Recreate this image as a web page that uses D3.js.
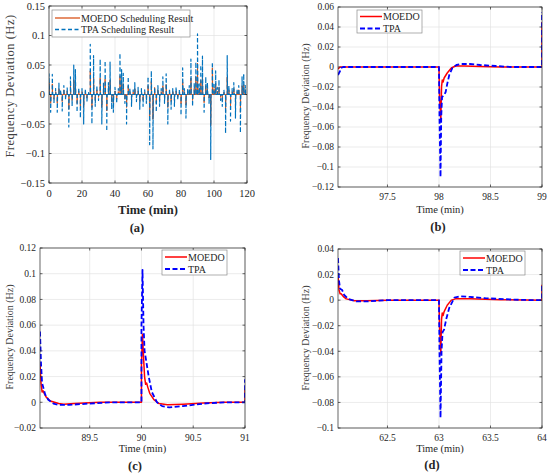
<!DOCTYPE html>
<meta charset="utf-8">
<head>
  <title>Frequency deviation</title>
</head>

<style>
body { margin: 0; background: #fff; }
svg text { fill: #262626; }
.grid line { stroke: #e3e3e3; stroke-width: 0.7; }
.frame { fill: none; stroke: #262626; stroke-width: 0.7; }
.tick { stroke: #262626; stroke-width: 0.7; }
</style>

<body>
  <svg width="550" height="475" font-family="'Liberation Serif', 'Times New Roman', 'DejaVu Serif', serif"></svg>

  <script src="https://cdnjs.cloudflare.com/ajax/libs/d3/7.8.5/d3.min.js"></script>
  <script>

// (a) per-minute peak deviation after each dispatch step, minutes 0..119
var tpaPeak = [
   0.035, -0.03,  0.034, -0.015,  0.01,  -0.03,  0.02,   0.008, -0.028,  0.015,
  -0.01,   0.012,-0.055,  0.03,  -0.02,   0.05,  0.042, -0.03,   0.012, -0.04,
   0.01,  -0.05,  0.01,  -0.012,  0.006,  0.085,-0.05,   0.066, -0.02,   0.015,
  -0.01,   0.06, -0.05,   0.02,   0.057, -0.062, 0.02,   0.055, -0.025, -0.03,
   0.012, -0.015, 0.01,   0.07,   0.042,  0.036,-0.015, -0.05,   0.03,   0.01,
  -0.02,   0.008, 0.02,  -0.012,  0.012, -0.025, 0.01,  -0.02,   0.008, -0.015,
   0.03,  -0.085, 0.04,  -0.092,  0.012, -0.03,  0.015, -0.02,   0.01,   0.03,
  -0.015,  0.035,-0.05,   0.01,  -0.025,  0.01, -0.02,   0.012, -0.01,   0.008,
  -0.035,  0.045, 0.01,  -0.04,   0.01,   0.015, 0.06,  -0.02,   0.02,   0.055,
   0.103,  0.018, 0.05,   0.065, -0.03,   0.03,  0.02,  -0.015, -0.11,   0.055,
   0.02,   0.04,  0.012,  0.025, -0.01,  -0.02,  0.008, -0.066,  0.066,  0.015,
  -0.045,  0.01,  0.02,  -0.04,   0.01,   0.015,-0.065,  0.03,   0.035,  0.015
];
var moedoPeak = [
   0.02,  -0.015, 0.018, -0.008,  0.005, -0.015, 0.01,   0.004, -0.012,  0.008,
  -0.005,  0.006,-0.025,  0.015, -0.01,   0.025, 0.02,  -0.015,  0.006, -0.02,
   0.005, -0.022, 0.005, -0.006,  0.003,  0.04, -0.022,  0.03,  -0.01,   0.008,
  -0.005,  0.028,-0.022,  0.01,   0.026, -0.028, 0.01,   0.025, -0.012, -0.014,
   0.006, -0.008, 0.005,  0.032,  0.02,   0.018,-0.008, -0.022,  0.015,  0.005,
  -0.01,   0.004, 0.01,  -0.006,  0.006, -0.012, 0.005, -0.01,   0.004, -0.008,
   0.015, -0.038, 0.022, -0.042,  0.012, -0.015, 0.008, -0.01,   0.005,  0.015,
  -0.008,  0.017,-0.022,  0.005, -0.012,  0.005,-0.01,   0.006, -0.005,  0.004,
  -0.016,  0.021, 0.005, -0.018,  0.005,  0.008, 0.028, -0.01,   0.01,   0.03,
   0.053,  0.01,  0.024,  0.03,  -0.014,  0.015, 0.01,  -0.006, -0.053,  0.045,
   0.01,   0.019, 0.006,  0.012, -0.005, -0.01,  0.004, -0.03,   0.03,   0.008,
  -0.02,   0.005, 0.01,  -0.018,  0.005,  0.008,-0.03,   0.015,  0.017,  0.008
];

// (b) 97-99 min
var tpaB = [[97.02,-0.008],[97.04,-0.004],[97.05,-0.001],[97.07,0],[98.0,0],[98.005,-0.05],[98.015,-0.11],
  [98.022,-0.05],[98.03,-0.03],[98.05,-0.028],[98.065,-0.025],[98.08,-0.017],[98.1,-0.008],[98.13,-0.001],
  [98.17,0.002],[98.22,0.003],[98.3,0.003],[98.4,0.002],[98.55,0.001],[98.7,0],[99.0,0],[99.0,0.055]];
var moedoB = [[97.02,-0.002],[97.04,0],[98.0,0],[98.005,-0.03],[98.018,-0.053],[98.025,-0.02],[98.032,-0.013],
  [98.04,-0.015],[98.05,-0.011],[98.08,-0.006],[98.12,-0.001],[98.16,0.001],[98.25,0.001],[98.4,0.0005],
  [98.6,0],[99.0,0],[99.0,0.045]];

// (c) 89-91 min
var tpaC = [[89.02,0.055],[89.03,0.03],[89.04,0.015],[89.05,0.012],[89.07,0.006],[89.1,0.002],[89.15,-0.001],
  [89.2,-0.002],[89.3,-0.002],[89.5,-0.001],[89.7,0],[90.0,0],[90.0,0.06],[90.01,0.103],[90.02,0.06],
  [90.03,0.04],[90.05,0.03],[90.07,0.02],[90.1,0.008],[90.15,0],[90.2,-0.003],[90.27,-0.004],[90.4,-0.003],
  [90.6,-0.001],[90.8,0],[91.0,0],[91.0,0.018]];
var moedoC = [[89.02,0.03],[89.03,0.015],[89.04,0.008],[89.05,0.009],[89.06,0.007],[89.08,0.004],[89.12,0.001],
  [89.2,-0.001],[89.25,-0.0015],[89.35,-0.001],[89.6,0],[90.0,0],[90.0,0.03],[90.01,0.053],[90.02,0.035],
  [90.03,0.02],[90.04,0.014],[90.05,0.015],[90.06,0.012],[90.08,0.007],[90.12,0.002],[90.17,-0.001],
  [90.25,-0.002],[90.4,-0.0015],[90.6,-0.0005],[90.8,0],[91.0,0],[91.0,0.01]];

// (d) 62-64 min
var tpaD = [[62.02,0.033],[62.03,0.015],[62.04,0.009],[62.06,0.008],[62.08,0.004],[62.12,0.001],[62.2,-0.001],
  [62.3,-0.001],[62.5,0],[63.0,0],[63.005,-0.04],[63.015,-0.092],[63.025,-0.04],[63.035,-0.025],[63.05,-0.023],
  [63.07,-0.015],[63.1,-0.006],[63.15,0.002],[63.2,0.003],[63.3,0.0025],[63.45,0.0015],[63.7,0.0005],
  [63.9,0],[64.0,0],[64.0,0.012]];
var moedoD = [[62.02,0.02],[62.03,0.008],[62.04,0.005],[62.05,0.005],[62.07,0.003],[62.1,0.001],[62.18,-0.0005],
  [62.3,-0.0005],[62.5,0],[63.0,0],[63.005,-0.02],[63.018,-0.042],[63.025,-0.015],[63.032,-0.01],[63.04,-0.012],
  [63.05,-0.009],[63.08,-0.004],[63.12,0],[63.16,0.001],[63.3,0.001],[63.6,0.0003],[64.0,0],[64.0,0.012]];

var ticksA_x = [0, 20, 40, 60, 80, 100, 120];
var ticksA_y = [-0.15, -0.1, -0.05, 0, 0.05, 0.1, 0.15];
var ticksB_x = [97.5, 98, 98.5, 99];
var ticksC_x = [89.5, 90, 90.5, 91];
var ticksD_x = [62.5, 63, 63.5, 64];
var ticksB_y = [-0.12, -0.1, -0.08, -0.06, -0.04, -0.02, 0, 0.02, 0.04, 0.06];
var ticksC_y = [-0.02, 0, 0.02, 0.04, 0.06, 0.08, 0.1, 0.12];
var ticksD_y = [-0.1, -0.08, -0.06, -0.04, -0.02, 0, 0.02, 0.04];

// spike series for (a): jump at each minute, then back to zero
function spikes(peaks) {
  var pts = [];
  peaks.forEach(function(p, m) {
    pts.push([m, 0], [m, p], [m + 0.2, 0]);
  });
  pts.push([120, 0]);
  return pts;
}

var fmt = function(v) {
  var s = String(+Math.abs(v).toFixed(4));
  return (v < 0 ? "\u2212" : "") + s;
};

var svg = d3.select("svg");

function panel(cfg) {
  var g = svg.append("g");
  var x = d3.scaleLinear().domain(cfg.xd).range([cfg.x0, cfg.x1]);
  var y = d3.scaleLinear().domain(cfg.yd).range([cfg.y1, cfg.y0]);
  var id = "clip" + cfg.name;

  svg.append("clipPath").attr("id", id).append("rect")
    .attr("x", cfg.x0).attr("y", cfg.y0 - 1)
    .attr("width", cfg.x1 - cfg.x0).attr("height", cfg.y1 - cfg.y0 + 2);

  var grid = g.append("g").attr("class", "grid");
  grid.selectAll(".gx").data(cfg.xt).enter().append("line")
    .attr("x1", d => x(d)).attr("x2", d => x(d))
    .attr("y1", cfg.y0).attr("y2", cfg.y1);
  grid.selectAll(".gy").data(cfg.yt).enter().append("line")
    .attr("x1", cfg.x0).attr("x2", cfg.x1)
    .attr("y1", d => y(d)).attr("y2", d => y(d));

  var line = d3.line().x(d => x(d[0])).y(d => y(d[1]));
  var lines = g.append("g").attr("clip-path", "url(#" + id + ")");
  cfg.series.forEach(function(s) {
    lines.append("path").datum(s.data)
      .attr("d", line)
      .attr("fill", "none")
      .attr("stroke", s.color)
      .attr("stroke-width", s.width)
      .attr("stroke-dasharray", s.dash || null)
      .attr("stroke-linejoin", "round");
  });

  g.append("rect").attr("class", "frame")
    .attr("x", cfg.x0).attr("y", cfg.y0)
    .attr("width", cfg.x1 - cfg.x0).attr("height", cfg.y1 - cfg.y0);

  // inward ticks, MATLAB style
  var tl = 2.5;
  g.selectAll(".tx").data(cfg.xt).enter().append("path").attr("class", "tick")
    .attr("d", d => "M" + x(d) + "," + cfg.y1 + "v" + (-tl) + "M" + x(d) + "," + cfg.y0 + "v" + tl);
  g.selectAll(".ty").data(cfg.yt).enter().append("path").attr("class", "tick")
    .attr("d", d => "M" + cfg.x0 + "," + y(d) + "h" + tl + "M" + cfg.x1 + "," + y(d) + "h" + (-tl));

  g.selectAll(".lx").data(cfg.xt).enter().append("text")
    .attr("x", d => x(d)).attr("y", cfg.y1 + cfg.fs + 3)
    .attr("text-anchor", "middle").attr("font-size", cfg.fs)
    .text(fmt);
  g.selectAll(".ly").data(cfg.yt).enter().append("text")
    .attr("x", cfg.x0 - 4).attr("y", d => y(d) + cfg.fs * 0.35)
    .attr("text-anchor", "end").attr("font-size", cfg.fs)
    .text(fmt);

  g.append("text")
    .attr("transform", "translate(" + cfg.ylabX + "," + cfg.ylabY + ") rotate(-90)")
    .attr("text-anchor", "middle").attr("font-size", cfg.lfs)
    .attr("letter-spacing", cfg.ls || 0)
    .style("fill", "#404040")
    .text("Frequency Deviation (Hz)");
  g.append("text")
    .attr("x", (cfg.x0 + cfg.x1) / 2).attr("y", cfg.xlabY)
    .attr("text-anchor", "middle").attr("font-size", cfg.xfs)
    .attr("font-weight", cfg.boldX ? "bold" : null)
    .text("Time (min)");
  g.append("text")
    .attr("x", cfg.capX).attr("y", cfg.capY)
    .attr("text-anchor", "middle").attr("font-size", 12.5).attr("font-weight", "bold")
    .text("(" + cfg.name + ")");

  // legend
  var L = cfg.legend;
  var lg = g.append("g");
  lg.append("rect").attr("x", L.x).attr("y", L.y).attr("width", L.w).attr("height", L.h)
    .attr("fill", "#fff").attr("stroke", "#8c8c8c").attr("stroke-width", 0.7);
  cfg.series.forEach(function(s, i) {
    var ry = L.y + L.r0 + i * L.dr;
    lg.append("line")
      .attr("x1", L.x + 3).attr("x2", L.x + L.sw).attr("y1", ry).attr("y2", ry)
      .attr("stroke", s.color).attr("stroke-width", L.lw || s.width)
      .attr("stroke-dasharray", s.dash || null);
    lg.append("text").attr("x", L.x + L.sw + 1).attr("y", ry + L.fs * 0.35)
      .attr("font-size", L.fs).text(s.label);
  });
}

var red = "#ff0000", blue = "#0000ff";

panel({
  name: "a", x0: 49, x1: 247, y0: 6, y1: 183,
  xd: [0, 120], yd: [-0.15, 0.15], xt: ticksA_x, yt: ticksA_y,
  fs: 10.5, lfs: 12.5, ls: 0.5, ylabX: 14, ylabY: 86,
  xfs: 12.5, boldX: true, xlabY: 214, capX: 137, capY: 232,
  series: [
    { label: "MOEDO Scheduling Result", data: spikes(moedoPeak), color: "#D95319", width: 1 },
    { label: "TPA Scheduling Result", data: spikes(tpaPeak), color: "#0072BD", width: 1.2, dash: "4,2.5" }
  ],
  legend: { x: 52, y: 10, w: 138, h: 27, r0: 8, dr: 11.5, sw: 28, fs: 10, lw: 1.3 }
});

panel({
  name: "b", x0: 338, x1: 542, y0: 7, y1: 187,
  xd: [97.02, 99], yd: [-0.12, 0.06], xt: ticksB_x, yt: ticksB_y,
  fs: 9.5, lfs: 10, ylabX: 309, ylabY: 96,
  xfs: 10.5, xlabY: 213, capX: 438, capY: 231,
  series: [
    { label: "MOEDO", data: moedoB, color: red, width: 1.5 },
    { label: "TPA", data: tpaB, color: blue, width: 1.8, dash: "5,2.5" }
  ],
  legend: { x: 357, y: 10, w: 65, h: 23, r0: 6.5, dr: 12, sw: 25, fs: 10 }
});

panel({
  name: "c", x0: 40, x1: 245, y0: 248, y1: 428,
  xd: [89.02, 91], yd: [-0.02, 0.12], xt: ticksC_x, yt: ticksC_y,
  fs: 9.5, lfs: 10, ylabX: 13, ylabY: 337,
  xfs: 10.5, xlabY: 452, capX: 135, capY: 470,
  series: [
    { label: "MOEDO", data: moedoC, color: red, width: 1.5 },
    { label: "TPA", data: tpaC, color: blue, width: 1.8, dash: "5,2.5" }
  ],
  legend: { x: 162, y: 250, w: 65, h: 25, r0: 7, dr: 12, sw: 25, fs: 10 }
});

panel({
  name: "d", x0: 338, x1: 542, y0: 249, y1: 428,
  xd: [62.02, 64], yd: [-0.1, 0.04], xt: ticksD_x, yt: ticksD_y,
  fs: 9.5, lfs: 10, ylabX: 309, ylabY: 338,
  xfs: 10.5, xlabY: 452, capX: 432, capY: 469,
  series: [
    { label: "MOEDO", data: moedoD, color: red, width: 1.5 },
    { label: "TPA", data: tpaD, color: blue, width: 1.8, dash: "5,2.5" }
  ],
  legend: { x: 460, y: 251, w: 65, h: 24, r0: 7, dr: 12, sw: 25, fs: 10 }
});

  </script>
</body>
</html>
